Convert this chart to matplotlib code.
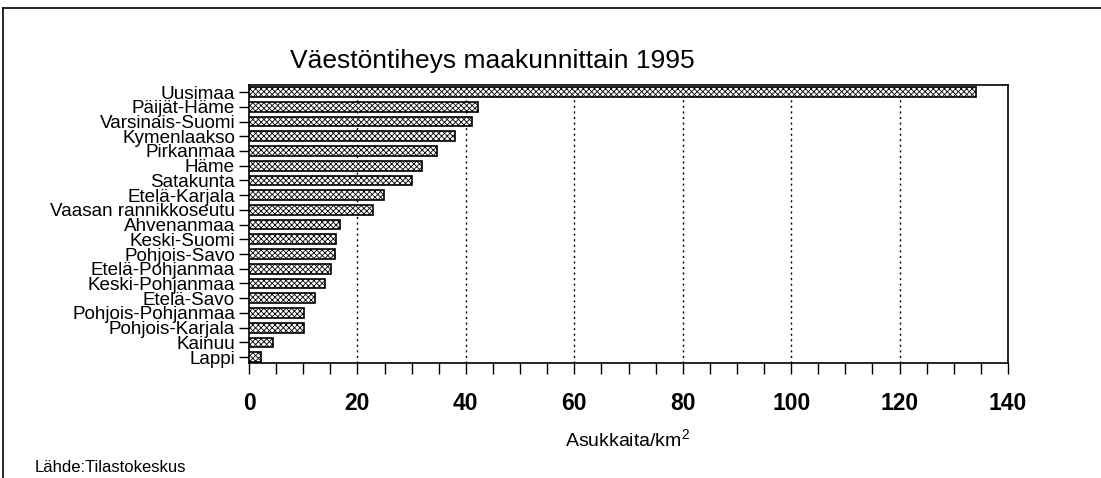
import matplotlib
matplotlib.use("Agg")
import matplotlib.pyplot as plt
from matplotlib.ticker import MultipleLocator
from matplotlib.lines import Line2D

plt.rcParams['font.family'] = ['Liberation Sans', 'DejaVu Sans']
plt.rcParams['hatch.linewidth'] = 0.6
plt.rcParams['mathtext.fontset'] = 'custom'
plt.rcParams['mathtext.rm'] = 'Liberation Sans'

regions = ["Uusimaa", "Päijät-Häme", "Varsinais-Suomi", "Kymenlaakso", "Pirkanmaa",
           "Häme", "Satakunta", "Etelä-Karjala", "Vaasan rannikkoseutu", "Ahvenanmaa",
           "Keski-Suomi", "Pohjois-Savo", "Etelä-Pohjanmaa", "Keski-Pohjanmaa",
           "Etelä-Savo", "Pohjois-Pohjanmaa", "Pohjois-Karjala", "Kainuu", "Lappi"]
density = [134.1, 42.3, 41.2, 38.0, 34.6, 32.0, 30.0, 24.9, 22.9, 16.7,
           16.1, 15.8, 15.1, 14.0, 12.2, 10.2, 10.1, 4.5, 2.2]
xticks = [0, 20, 40, 60, 80, 100, 120, 140]

title = "Väestöntiheys maakunnittain 1995"
xlabel = "Asukkaita/km$^{\\mathrm{2}}$"
source = "Lähde:Tilastokeskus"

fig = plt.figure(figsize=(11.01, 4.78), dpi=100)
ax = fig.add_axes([249/1101, 1-363/478, (1008-249)/1101, (363-85)/478])

n = len(regions)
ypos = list(range(n - 1, -1, -1))
ax.barh(ypos, density, height=0.66, color='white', edgecolor='black',
        linewidth=1.2, hatch='xxxxxx', zorder=3)

ax.set_xlim(0, 140)
ax.set_ylim(-0.4, n - 1 + 0.48)
ax.set_xticks(xticks)
ax.set_xticklabels([str(t) for t in xticks], fontsize=16.5, fontweight='bold')
ax.xaxis.set_minor_locator(MultipleLocator(5))
ax.tick_params(axis='x', which='both', direction='out', length=8, width=1, pad=13)
ax.set_yticks(ypos)
ax.set_yticklabels(regions, fontsize=13.6)
ax.tick_params(axis='y', direction='out', length=7, width=1, pad=3)

for t in xticks[1:-1]:
    ax.axvline(t, color='black', linestyle=(0, (1.5, 2.5)), linewidth=1, zorder=1)

for s in ax.spines.values():
    s.set_linewidth(1.2)

fig.text(492/1101, 1-61/478, title, fontsize=19, ha='center', va='center')
fig.text(628/1101, 1-440/478, xlabel, fontsize=14, ha='center', va='center')
fig.text(35/1101, 1-468/478, source, fontsize=12, ha='left', va='center')

# outer frame
fig.add_artist(Line2D([3/1101, 3/1101], [0, 1-8/478], transform=fig.transFigure,
                      color='black', linewidth=1.2))
fig.add_artist(Line2D([3/1101, 1], [1-8/478, 1-8/478], transform=fig.transFigure,
                      color='black', linewidth=1.2))

fig.savefig("out.png", dpi=100)
